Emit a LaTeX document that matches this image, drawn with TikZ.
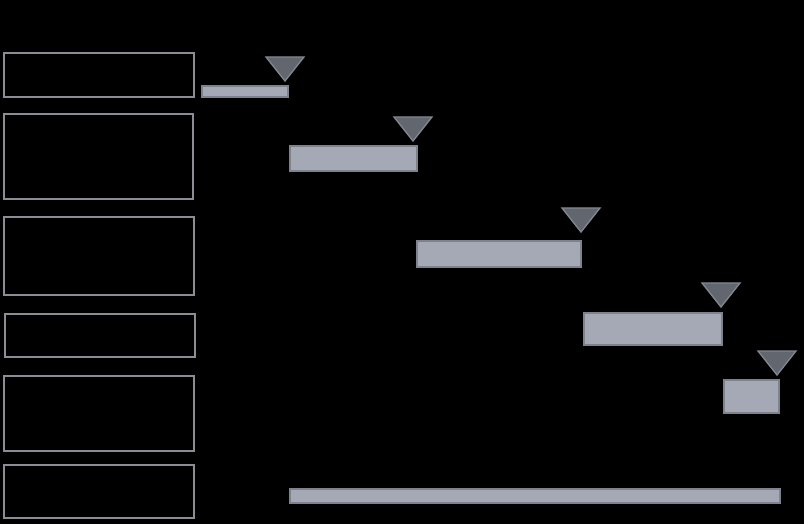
\documentclass[tikz,border=0pt]{standalone}
\usepackage{xcolor}
\usepackage{tikz}

\definecolor{lanegray}{HTML}{8C8C94}
\definecolor{barfill}{HTML}{A5A9B5}
\definecolor{barline}{HTML}{7E828C}
\definecolor{markfill}{HTML}{62666E}
\definecolor{markline}{HTML}{82868E}

\begin{document}
\begin{tikzpicture}[
  x=0.75pt, y=-0.75pt,
  lane/.style={draw=lanegray, line width=1.5pt, fill=black},
  taskbar/.style={draw=barline, line width=1.2pt, fill=barfill},
  milestone/.style={draw=markline, line width=1pt, fill=markfill, line join=miter}
]

% background / page size
\fill[black] (0,0) rectangle (804,524);
\useasboundingbox (0,0) rectangle (804,524);

% phase rows (left column)
\draw[lane] (4,53) rectangle (194,97);
\draw[lane] (4,114) rectangle (193,199);
\draw[lane] (4,217) rectangle (194,295);
\draw[lane] (5,314) rectangle (195,357);
\draw[lane] (4,376) rectangle (194,451);
\draw[lane] (4,465) rectangle (194,518);

% task bars
\draw[taskbar] (202,86) rectangle (288,97);
\draw[taskbar] (290,146) rectangle (417,171);
\draw[taskbar] (417,241) rectangle (581,267);
\draw[taskbar] (584,313) rectangle (722,345);
\draw[taskbar] (724,380) rectangle (779,413);
\draw[taskbar] (290,489) rectangle (780,503);

% milestones (apex at the end of each bar)
\coordinate (ms1) at (285,81);
\coordinate (ms2) at (413,141);
\coordinate (ms3) at (581,232);
\coordinate (ms4) at (721,307);
\coordinate (ms5) at (777,375);

\draw[milestone] (ms1) ++(-19,-24) -- ++(38,0) -- (ms1) -- cycle;
\draw[milestone] (ms2) ++(-19,-24) -- ++(38,0) -- (ms2) -- cycle;
\draw[milestone] (ms3) ++(-19,-24) -- ++(38,0) -- (ms3) -- cycle;
\draw[milestone] (ms4) ++(-19,-24) -- ++(38,0) -- (ms4) -- cycle;
\draw[milestone] (ms5) ++(-19,-24) -- ++(38,0) -- (ms5) -- cycle;

\end{tikzpicture}
\end{document}
